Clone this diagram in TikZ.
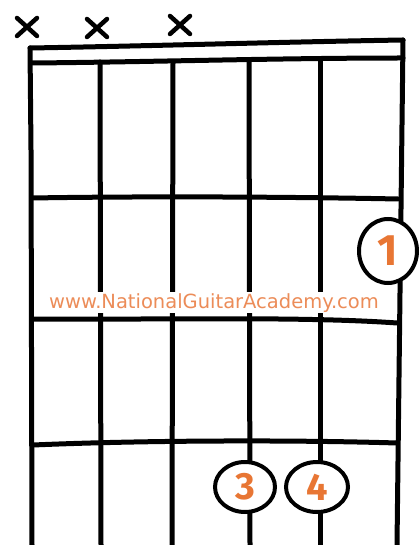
\documentclass[tikz,border=0pt]{standalone}
\usepackage{fontspec}
\setmainfont{Fira Sans}
\newfontfamily\sitefont{DejaVu Sans}
\usetikzlibrary{shapes.geometric}
\definecolor{ngaorange}{RGB}{232,118,52}
\definecolor{siteorange}{RGB}{236,140,88}
\begin{document}
\begin{tikzpicture}[x=1pt,y=-1pt,
  ink/.style={line width=5pt,line cap=round,line join=round},
  mute/.style={line width=4.5pt,line cap=round},
  finger/.style={ellipse,draw,line width=4pt,fill=white,inner sep=0pt,text=ngaorange,font=\fontsize{38}{38}\selectfont\bfseries},
  site/.style={text=siteorange,font=\sitefont\fontsize{19.5}{20}\selectfont,inner sep=0pt}]
\useasboundingbox (0,0) rectangle (418,545);
% muted string marks
\foreach \n/\cx/\cy in {m1/27/27,m2/97/28,m3/180/25}{
  \coordinate (\n) at (\cx,\cy);
  \draw[mute] ([shift={(-10,-9)}]\n) -- ([shift={(10,9)}]\n);
  \draw[mute] ([shift={(-10,9)}]\n) -- ([shift={(10,-9)}]\n);
}
% nut
\draw[ink] (30,48) .. controls (150,46) and (280,42) .. (403,40);
\draw[ink] (32,63) .. controls (150,62) and (280,58) .. (403,58);
% strings
\draw[ink] (30,48) -- (31,150) -- (32,545);
\draw[ink] (100,62) -- (101,545);
\draw[ink] (173,62) -- (172,545);
\draw[ink] (249,60) -- (250,545);
\draw[ink] (320,59) -- (320,545);
\draw[ink] (403,40) -- (397,545);
% frets
\draw[ink] (32,198) .. controls (150,196) and (300,197) .. (398,199);
\draw[ink] (32,319) .. controls (150,320) and (300,316) .. (397,323);
\draw[ink] (33,445) .. controls (150,440) and (300,440) .. (397,443);
% watermark
\fill[white] (36,292) rectangle (392,313);
\node[site,anchor=base] (web) at (214,308) {www.NationalGuitarAcademy.com};
% fingers
\node[finger,minimum width=58pt,minimum height=64pt,font=\fontsize{44}{44}\selectfont\bfseries] (f1) at (388,251) {1};
\node[finger,minimum width=60pt,minimum height=50pt] (f3) at (245,487) {3};
\node[finger,minimum width=62pt,minimum height=50pt] (f4) at (317,487) {4};
\end{tikzpicture}
\end{document}
